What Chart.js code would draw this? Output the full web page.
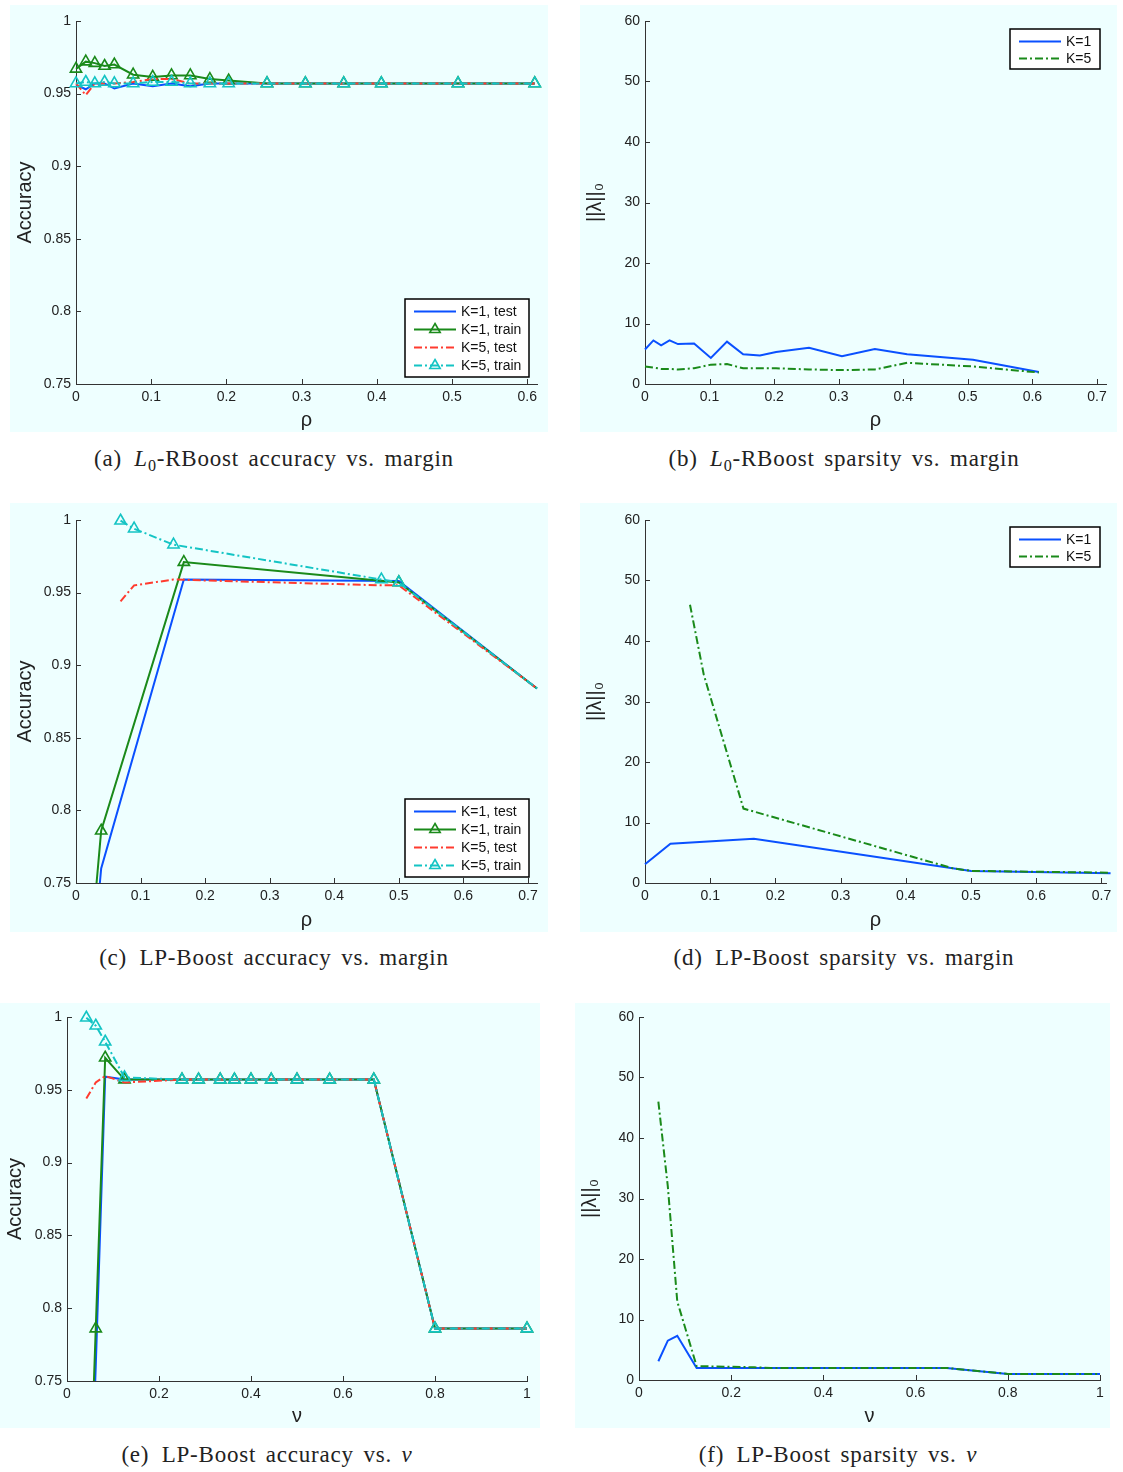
<!DOCTYPE html>
<html>
<head>
<meta charset="utf-8">
<script src="https://cdn.jsdelivr.net/npm/chart.js@4.4.1/dist/chart.umd.min.js"></script>
<style>
body { margin: 0; background: #fff; }
#page { position: relative; width: 1123px; height: 1472px; }
.panel { position: absolute; background: #eeffff; }
.panel canvas { display: block; }
.cap { position: absolute; transform: translateX(-50%); white-space: nowrap;
  font-family: "Liberation Serif", serif; font-size: 23px; color: #222; letter-spacing: 0.8px; word-spacing: 3px; }
.cap sub { font-size: 70%; vertical-align: -0.3em; line-height: 0; }
</style>
</head>
<body>
<div id="page">
  <div class="panel" style="left:10px;top:5px"><canvas id="cA" width="538" height="427"></canvas></div>
  <div class="panel" style="left:580px;top:5px"><canvas id="cB" width="537" height="427"></canvas></div>
  <div class="panel" style="left:10px;top:503px"><canvas id="cC" width="538" height="429"></canvas></div>
  <div class="panel" style="left:580px;top:503px"><canvas id="cD" width="537" height="429"></canvas></div>
  <div class="panel" style="left:0px;top:1003px"><canvas id="cE" width="540" height="425"></canvas></div>
  <div class="panel" style="left:575px;top:1003px"><canvas id="cF" width="535" height="425"></canvas></div>

  <div class="cap" style="left:274px;top:446px">(a)&ensp;<i>L</i><sub>0</sub>-RBoost accuracy vs. margin</div>
  <div class="cap" style="left:844px;top:446px">(b)&ensp;<i>L</i><sub>0</sub>-RBoost sparsity vs. margin</div>
  <div class="cap" style="left:274px;top:945px">(c)&ensp;LP-Boost accuracy vs. margin</div>
  <div class="cap" style="left:844px;top:945px">(d)&ensp;LP-Boost sparsity vs. margin</div>
  <div class="cap" style="left:267px;top:1442px">(e)&ensp;LP-Boost accuracy vs. <i>ν</i></div>
  <div class="cap" style="left:838px;top:1442px">(f)&ensp;LP-Boost sparsity vs. <i>ν</i></div>
</div>
<script>
// ---- data ----
// L0-RBoost, margin rho
var rhoA = [0, 0.013, 0.025, 0.038, 0.051, 0.076, 0.102, 0.127, 0.152, 0.178, 0.203, 0.254, 0.305, 0.356, 0.406, 0.508, 0.61];
var accA_k1Test  = [0.956, 0.953, 0.957, 0.957, 0.9535, 0.957, 0.955, 0.957, 0.955, 0.957, 0.957, 0.957, 0.957, 0.957, 0.957, 0.957, 0.957];
var accA_k1Train = [0.967, 0.972, 0.971, 0.969, 0.970, 0.963, 0.9615, 0.9625, 0.9625, 0.960, 0.959, 0.957, 0.957, 0.957, 0.957, 0.957, 0.957];
var accA_k5Test  = [0.957, 0.949, 0.957, 0.957, 0.957, 0.958, 0.960, 0.960, 0.957, 0.957, 0.957, 0.957, 0.957, 0.957, 0.957, 0.957, 0.957];
var accA_k5Train = [0.957, 0.958, 0.957, 0.958, 0.957, 0.957, 0.958, 0.958, 0.957, 0.957, 0.957, 0.957, 0.957, 0.957, 0.957, 0.957, 0.957];
var spA_k1 = [5.7, 7.2, 6.4, 7.2, 6.6, 6.7, 4.3, 7.0, 4.9, 4.7, 5.3, 6.0, 4.6, 5.8, 4.9, 4.0, 2.0];
var spA_k5 = [2.9, 2.7, 2.5, 2.5, 2.4, 2.6, 3.2, 3.3, 2.6, 2.6, 2.6, 2.4, 2.3, 2.4, 3.5, 2.9, 1.9];

// LP-Boost, margin rho
var rhoC_k1 = [0, 0.039, 0.167, 0.5, 0.714];
var rhoC_k5 = [0.069, 0.09, 0.151, 0.473, 0.5, 0.714];
var accC_k1Test  = [0.57, 0.760, 0.959, 0.958, 0.884];
var accC_k1Train = [0.59, 0.786, 0.971, 0.957, 0.884];
var accC_k5Test  = [0.944, 0.955, 0.959, 0.955, 0.955, 0.884];
var accC_k5Train = [0.9995, 0.994, 0.983, 0.959, 0.957, 0.884];
var spC_k1 = [3.1, 6.5, 7.3, 2.0, 1.6];
var spC_k5 = [46, 34.5, 12.3, 2.4, 2.0, 1.7];

// LP-Boost, nu
var nuE = [0.042, 0.0625, 0.083, 0.125, 0.25, 0.286, 0.333, 0.364, 0.4, 0.444, 0.5, 0.571, 0.667, 0.8, 1];
var accE_k1Test  = [0.58, 0.760, 0.959, 0.957, 0.957, 0.957, 0.957, 0.957, 0.957, 0.957, 0.957, 0.957, 0.957, 0.786, 0.786];
var accE_k1Train = [0.60, 0.786, 0.972, 0.957, 0.957, 0.957, 0.957, 0.957, 0.957, 0.957, 0.957, 0.957, 0.957, 0.786, 0.786];
var accE_k5Test  = [0.944, 0.955, 0.9595, 0.955, 0.957, 0.957, 0.957, 0.957, 0.957, 0.957, 0.957, 0.957, 0.957, 0.786, 0.786];
var accE_k5Train = [0.9995, 0.994, 0.983, 0.9585, 0.957, 0.957, 0.957, 0.957, 0.957, 0.957, 0.957, 0.957, 0.957, 0.786, 0.786];
var spE_k1 = [3.1, 6.5, 7.3, 2, 2, 2, 2, 2, 2, 2, 2, 2, 2, 1, 1];
var spE_k5 = [46, 32, 13, 2.3, 2.1, 2, 2, 2, 2, 2, 2, 2, 2, 1, 1];

// ticks
var xTicksRho7 = [0, 0.1, 0.2, 0.3, 0.4, 0.5, 0.6, 0.7];
var xTicksRho6 = [0, 0.1, 0.2, 0.3, 0.4, 0.5, 0.6];
var xTicksNu = [0, 0.2, 0.4, 0.6, 0.8, 1];
var accTicks = [0.75, 0.8, 0.85, 0.9, 0.95, 1];
var spTicks = [0, 10, 20, 30, 40, 50, 60];

// ---- styles ----
var BLUE = '#0a50ff', GREEN = '#1a8a1a', RED = '#ff3b2f', CYAN = '#14c4c4';
var DASHDOT = [8, 3, 2, 3];
var SANS = '"Liberation Sans", Arial, sans-serif';

function series(label, xs, ys, color, dash, order, marks) {
  return {
    label: label,
    data: xs.map(function (x, i) { return {x: x, y: ys[i]}; }),
    borderColor: color,
    backgroundColor: 'transparent',
    borderWidth: 2,
    borderDash: dash,
    pointStyle: 'triangle',
    pointRadius: marks || 0,
    pointBorderColor: color,
    pointBackgroundColor: 'rgba(0,0,0,0)',
    pointBorderWidth: 1.6,
    marker: !!marks,
    order: order,
    tension: 0,
    clip: {left: 8, right: 8, top: 8, bottom: 0}
  };
}

function fmt(v) { return String(+(+v).toFixed(2)); }

// MATLAB-like ticks pointing into the plot
var inTicks = {
  id: 'inTicks',
  afterDraw: function (chart) {
    var ctx = chart.ctx, a = chart.chartArea, xs = chart.scales.x, ys = chart.scales.y;
    ctx.save();
    ctx.strokeStyle = '#333';
    ctx.lineWidth = 1;
    ctx.beginPath();
    xs.ticks.forEach(function (t) {
      var p = Math.round(xs.getPixelForValue(t.value)) + 0.5;
      ctx.moveTo(p, a.bottom); ctx.lineTo(p, a.bottom - 5);
    });
    ys.ticks.forEach(function (t) {
      var p = Math.round(ys.getPixelForValue(t.value)) + 0.5;
      ctx.moveTo(a.left, p); ctx.lineTo(a.left + 5, p);
    });
    ctx.stroke();
    ctx.restore();
  }
};

function tri(ctx, x, y, r) {
  ctx.beginPath();
  for (var k = 0; k < 3; k++) {
    var ang = k * 2 * Math.PI / 3;
    ctx.lineTo(x + Math.sin(ang) * r, y - Math.cos(ang) * r);
  }
  ctx.closePath();
  ctx.stroke();
}

// boxed legend like matlab
var boxLegend = {
  id: 'boxLegend',
  afterDraw: function (chart, args, opts) {
    if (!opts || !opts.w) return;
    var ctx = chart.ctx, a = chart.chartArea, sets = chart.data.datasets;
    var h = sets.length * opts.rowH + 6;
    var x0 = a.right - opts.right - opts.w;
    var y0 = opts.top !== undefined ? a.top + opts.top : a.bottom - opts.bottom - h;
    ctx.save();
    ctx.fillStyle = '#fff';
    ctx.fillRect(x0, y0, opts.w, h);
    ctx.strokeStyle = '#000';
    ctx.lineWidth = 1.5;
    ctx.strokeRect(x0, y0, opts.w, h);
    ctx.font = '14px ' + SANS;
    ctx.textBaseline = 'middle';
    sets.forEach(function (d, i) {
      var cy = Math.round(y0 + 3 + opts.rowH * (i + 0.5)) + 0.5;
      ctx.strokeStyle = d.borderColor;
      ctx.lineWidth = 2;
      ctx.setLineDash(d.borderDash);
      ctx.beginPath(); ctx.moveTo(x0 + 9, cy); ctx.lineTo(x0 + 51, cy); ctx.stroke();
      ctx.setLineDash([]);
      if (d.marker) { ctx.lineWidth = 1.6; tri(ctx, x0 + 30, cy, 6); }
      ctx.fillStyle = '#111';
      ctx.fillText(d.label, x0 + 56, cy + 1);
    });
    ctx.restore();
  }
};

function makeChart(id, datasets, o) {
  return new Chart(document.getElementById(id), {
    type: 'line',
    data: {datasets: datasets},
    options: {
      responsive: false,
      animation: false,
      events: [],
      layout: {padding: {top: o.top, right: o.right, left: 0, bottom: 0}},
      plugins: {legend: {display: false}, tooltip: {enabled: false}, boxLegend: o.legend || {}},
      scales: {
        x: {
          type: 'linear', min: 0, max: o.xMax,
          grid: {display: false, drawTicks: false},
          border: {display: true, color: '#333', width: 1},
          afterBuildTicks: function (s) { s.ticks = o.xTicks.map(function (v) { return {value: v}; }); },
          afterFit: function (s) { s.height = o.xH; },
          ticks: {padding: 5, color: '#222', font: {family: SANS, size: 14}, callback: fmt, maxRotation: 0, autoSkip: false},
          title: {display: true, text: o.xTitle, color: '#222', font: {family: SANS, size: 20, lineHeight: 1.1}, padding: {top: 0, bottom: 1}}
        },
        y: {
          type: 'linear', min: o.yTicks[0], max: o.yTicks[o.yTicks.length - 1],
          grid: {display: false, drawTicks: false},
          border: {display: true, color: '#333', width: 1},
          afterBuildTicks: function (s) { s.ticks = o.yTicks.map(function (v) { return {value: v}; }); },
          afterFit: function (s) { s.width = o.yW; },
          ticks: {padding: 5, color: '#222', font: {family: SANS, size: 14}, callback: fmt, autoSkip: false},
          title: {display: true, text: o.yTitle, color: '#222', font: {family: SANS, size: 20, lineHeight: 1.2}, padding: {top: 3, bottom: 0}}
        }
      }
    },
    plugins: [inTicks, boxLegend]
  });
}

var LAMBDA = '||\u03bb||\u2080';

// (a)
makeChart('cA', [
  series('K=1, test', rhoA, accA_k1Test, BLUE, [], 4),
  series('K=1, train', rhoA, accA_k1Train, GREEN, [], 3, 6.5),
  series('K=5, test', rhoA, accA_k5Test, RED, DASHDOT, 2),
  series('K=5, train', rhoA, accA_k5Train, CYAN, DASHDOT, 1, 6.5)
], {top: 16, right: 11, xH: 48, yW: 66, xMax: 0.613, xTicks: xTicksRho6, yTicks: accTicks,
    xTitle: '\u03c1', yTitle: 'Accuracy', legend: {w: 124, rowH: 18, right: 8, bottom: 7}});

// (b)
makeChart('cB', [
  series('K=1', rhoA, spA_k1, BLUE, [], 2),
  series('K=5', rhoA, spA_k5, GREEN, DASHDOT, 1)
], {top: 16, right: 11, xH: 48, yW: 65, xMax: 0.714, xTicks: xTicksRho7, yTicks: spTicks,
    xTitle: '\u03c1', yTitle: LAMBDA, legend: {w: 90, rowH: 17, right: 6, top: 8}});

// (c)
makeChart('cC', [
  series('K=1, test', rhoC_k1, accC_k1Test, BLUE, [], 4),
  series('K=1, train', rhoC_k1, accC_k1Train, GREEN, [], 3, [6.5, 6.5, 6.5, 6.5, 0]),
  series('K=5, test', rhoC_k5, accC_k5Test, RED, DASHDOT, 2),
  series('K=5, train', rhoC_k5, accC_k5Train, CYAN, DASHDOT, 1, [6.5, 6.5, 6.5, 6.5, 6.5, 0])
], {top: 17, right: 11, xH: 49, yW: 66, xMax: 0.714, xTicks: xTicksRho7, yTicks: accTicks,
    xTitle: '\u03c1', yTitle: 'Accuracy', legend: {w: 124, rowH: 18, right: 8, bottom: 6}});

// (d)
makeChart('cD', [
  series('K=1', rhoC_k1, spC_k1, BLUE, [], 2),
  series('K=5', rhoC_k5, spC_k5, GREEN, DASHDOT, 1)
], {top: 17, right: 11, xH: 49, yW: 65, xMax: 0.707, xTicks: xTicksRho7, yTicks: spTicks,
    xTitle: '\u03c1', yTitle: LAMBDA, legend: {w: 90, rowH: 17, right: 6, top: 7}});

// (e)
makeChart('cE', [
  series('K=1, test', nuE, accE_k1Test, BLUE, [], 4),
  series('K=1, train', nuE, accE_k1Train, GREEN, [], 3, 6.5),
  series('K=5, test', nuE, accE_k5Test, RED, DASHDOT, 2),
  series('K=5, train', nuE, accE_k5Train, CYAN, DASHDOT, 1, 6.5)
], {top: 14, right: 13, xH: 47, yW: 67, xMax: 1, xTicks: xTicksNu, yTicks: accTicks,
    xTitle: '\u03bd', yTitle: 'Accuracy'});

// (f)
makeChart('cF', [
  series('K=1', nuE, spE_k1, BLUE, [], 2),
  series('K=5', nuE, spE_k5, GREEN, DASHDOT, 1)
], {top: 14, right: 10, xH: 48, yW: 64, xMax: 1, xTicks: xTicksNu, yTicks: spTicks,
    xTitle: '\u03bd', yTitle: LAMBDA});
</script>
</body>
</html>
